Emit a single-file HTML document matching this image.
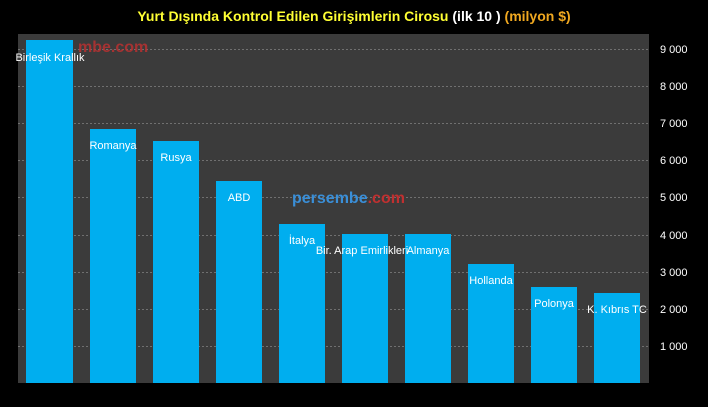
<!DOCTYPE html>
<html><head><meta charset="utf-8"><style>
body{margin:0;background:#000;width:708px;height:402px;overflow:hidden;font-family:"Liberation Sans",sans-serif}
</style></head><body>
<svg width="708" height="402" xmlns="http://www.w3.org/2000/svg" font-family="Liberation Sans, sans-serif">
<rect width="708" height="402" fill="#000"/>
<text x="354" y="21" text-anchor="middle" font-size="14" font-weight="bold"><tspan fill="#ffff33">Yurt Dışında Kontrol Edilen Girişimlerin Cirosu </tspan><tspan fill="#fff">(ilk 10 ) </tspan><tspan fill="#f0a820">(milyon $)</tspan></text>
<rect x="18" y="34" width="631" height="349" fill="#3b3b3b"/>
<g stroke="#707070" stroke-dasharray="2,2" stroke-width="1">
<line x1="18" x2="649" y1="49.5" y2="49.5"/><line x1="18" x2="649" y1="86.5" y2="86.5"/>
<line x1="18" x2="649" y1="123.5" y2="123.5"/><line x1="18" x2="649" y1="160.5" y2="160.5"/>
<line x1="18" x2="649" y1="197.5" y2="197.5"/><line x1="18" x2="649" y1="235.5" y2="235.5"/>
<line x1="18" x2="649" y1="272.5" y2="272.5"/><line x1="18" x2="649" y1="309.5" y2="309.5"/>
<line x1="18" x2="649" y1="346.5" y2="346.5"/>
</g>
<g fill="#fff" font-size="11">
<text x="660" y="53">9 000</text><text x="660" y="90">8 000</text><text x="660" y="127">7 000</text>
<text x="660" y="164">6 000</text><text x="660" y="201">5 000</text><text x="660" y="239">4 000</text>
<text x="660" y="276">3 000</text><text x="660" y="313">2 000</text><text x="660" y="350">1 000</text>
</g>
<text x="292" y="203" font-size="16" font-weight="bold" fill="#3a8fd8">persembe<tspan fill="#c03030">.com</tspan></text>
<g fill="#00aeef">
<rect x="26" y="40" width="47" height="343"/><rect x="90" y="129" width="46" height="254"/>
<rect x="153" y="141" width="46" height="242"/><rect x="216" y="181" width="46" height="202"/>
<rect x="279" y="224" width="46" height="159"/><rect x="342" y="234" width="46" height="149"/>
<rect x="405" y="234" width="46" height="149"/><rect x="468" y="264" width="46" height="119"/>
<rect x="531" y="287" width="46" height="96"/><rect x="594" y="293" width="46" height="90"/>
</g>
<text x="78" y="52" font-size="16" font-weight="bold" fill="#c03030" opacity="0.8">mbe.com</text>
<g fill="#fff" font-size="11" text-anchor="middle">
<text x="50" y="61">Birleşik Krallık</text><text x="113" y="149">Romanya</text>
<text x="176" y="161">Rusya</text><text x="239" y="201">ABD</text>
<text x="302" y="244">İtalya</text><text x="362" y="254">Bir. Arap Emirlikleri</text>
<text x="428" y="254">Almanya</text><text x="491" y="284">Hollanda</text>
<text x="554" y="307">Polonya</text><text x="617" y="313">K. Kıbrıs TC</text>
</g>
</svg>
</body></html>
